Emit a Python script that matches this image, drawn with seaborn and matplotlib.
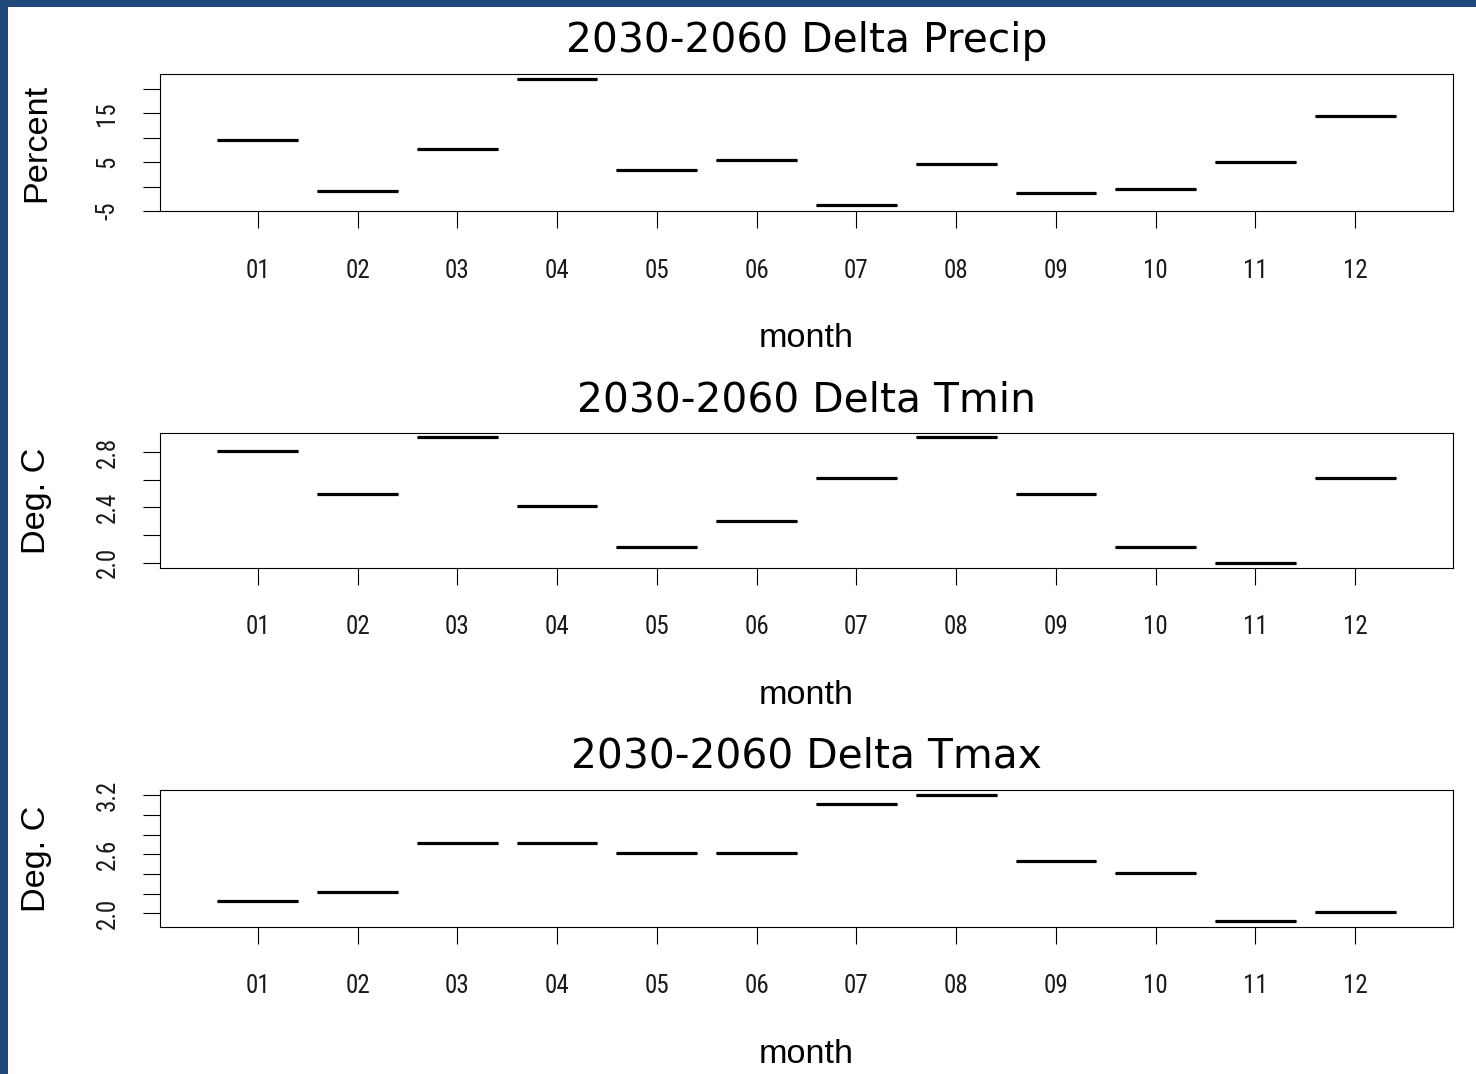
import numpy as np
import pandas as pd
import matplotlib
matplotlib.use("Agg")
import matplotlib.pyplot as plt
from matplotlib import font_manager as fm
from matplotlib.patches import Rectangle
from matplotlib.ticker import FixedLocator, FixedFormatter
import seaborn as sns

# ---------------- data ----------------
months = ["01", "02", "03", "04", "05", "06", "07", "08", "09", "10", "11", "12"]
precip = [9.5, -0.9, 7.7, 22.05, 3.45, 5.45, -3.7, 4.6, -1.4, -0.6, 5.0, 14.45]
tmin = [2.805, 2.50, 2.91, 2.41, 2.11, 2.30, 2.61, 2.91, 2.50, 2.11, 2.00, 2.61]
tmax = [2.13, 2.22, 2.71, 2.71, 2.61, 2.61, 3.11, 3.20, 2.53, 2.41, 1.92, 2.01]

titles = ["2030-2060 Delta Precip", "2030-2060 Delta Tmin", "2030-2060 Delta Tmax"]
ylabels = ["Percent", "Deg. C", "Deg. C"]
xlabel = "month"

p_ticks = [-5, 0, 5, 10, 15, 20]
p_labels = ["-5", "", "5", "", "15", ""]
tn_ticks = [2.0, 2.2, 2.4, 2.6, 2.8]
tn_labels = ["2.0", "", "2.4", "", "2.8"]
tx_ticks = [2.0, 2.2, 2.4, 2.6, 2.8, 3.0, 3.2]
tx_labels = ["2.0", "", "", "2.6", "", "", "3.2"]


def pick(names):
    for n in names:
        try:
            fm.findfont(fm.FontProperties(family=n), fallback_to_default=False)
            return n
        except Exception:
            pass
    return "DejaVu Sans"


tick_font = pick(["Liberation Sans Narrow", "Roboto Condensed", "Liberation Sans"])
label_font = pick(["Liberation Sans", "DejaVu Sans"])
title_font = "DejaVu Sans"

sns.set_theme(style="white")
plt.rcParams["font.family"] = ["DejaVu Sans"]

W, H = 1476, 1074
fig = plt.figure(figsize=(W / 100, H / 100), dpi=100, facecolor="white")

# border (dark blue frame at top and left)
blue = "#1f497d"
fig.patches.append(Rectangle((0, 1 - 7 / H), 1, 7 / H, transform=fig.transFigure,
                             facecolor=blue, edgecolor="none", zorder=10))
fig.patches.append(Rectangle((0, 0), 8 / W, 1, transform=fig.transFigure,
                             facecolor=blue, edgecolor="none", zorder=10))

panels = [
    dict(vals=precip, top=74.0, bot=211.0, ylim=(-5.02, 23.07), ticks=p_ticks, labels=p_labels),
    dict(vals=tmin, top=433.3, bot=567.7, ylim=(1.964, 2.935), ticks=tn_ticks, labels=tn_labels),
    dict(vals=tmax, top=790.0, bot=926.7, ylim=(1.866, 3.251), ticks=tx_ticks, labels=tx_labels),
]

left, right = 160.0, 1453.0
for i, p in enumerate(panels):
    ax = fig.add_axes([left / W, (H - p["bot"]) / H, (right - left) / W, (p["bot"] - p["top"]) / H])
    df = pd.DataFrame({"month": months, "value": p["vals"]})
    sns.boxplot(data=df, x="month", y="value", order=months, ax=ax, width=0.81,
                color="white", linecolor="black", linewidth=0.75, showcaps=False,
                whis=0, fliersize=0,
                medianprops=dict(linewidth=2.3, color="black", solid_capstyle="butt"),
                whiskerprops=dict(linewidth=0))
    ax.set_xlim(-0.98, 11.98)
    ax.set_ylim(*p["ylim"])
    ax.yaxis.set_major_locator(FixedLocator(p["ticks"]))
    ax.yaxis.set_major_formatter(FixedFormatter(p["labels"]))
    for s in ax.spines.values():
        s.set_visible(True)
        s.set_linewidth(0.8)
        s.set_color("black")
    ax.tick_params(axis="both", which="major", direction="out", length=12.2, width=0.8,
                   color="black", labelcolor="#1a1a1a", labelsize=18)
    ax.tick_params(axis="x", pad=22, bottom=True)
    ax.tick_params(axis="y", pad=17, left=True, labelrotation=90)
    for lab in ax.get_xticklabels() + ax.get_yticklabels():
        lab.set_fontfamily(tick_font)
    for lab in ax.get_yticklabels():
        lab.set_verticalalignment("center")
    ax.set_title(titles[i], fontsize=29.3, fontfamily=title_font, pad=16, color="black")
    ax.set_xlabel(xlabel, fontsize=24.7, fontfamily=label_font, va="baseline", color="black")
    h = p["bot"] - p["top"]
    ax.xaxis.set_label_coords(0.5, -136.0 / h)
    ax.set_ylabel(ylabels[i], fontsize=24.7, fontfamily=label_font, va="center", color="black")
    ax.yaxis.set_label_coords((37.0 - left) / (right - left), 0.5)
    ax.grid(False)

fig.savefig("out.png", dpi=100, facecolor="white")
